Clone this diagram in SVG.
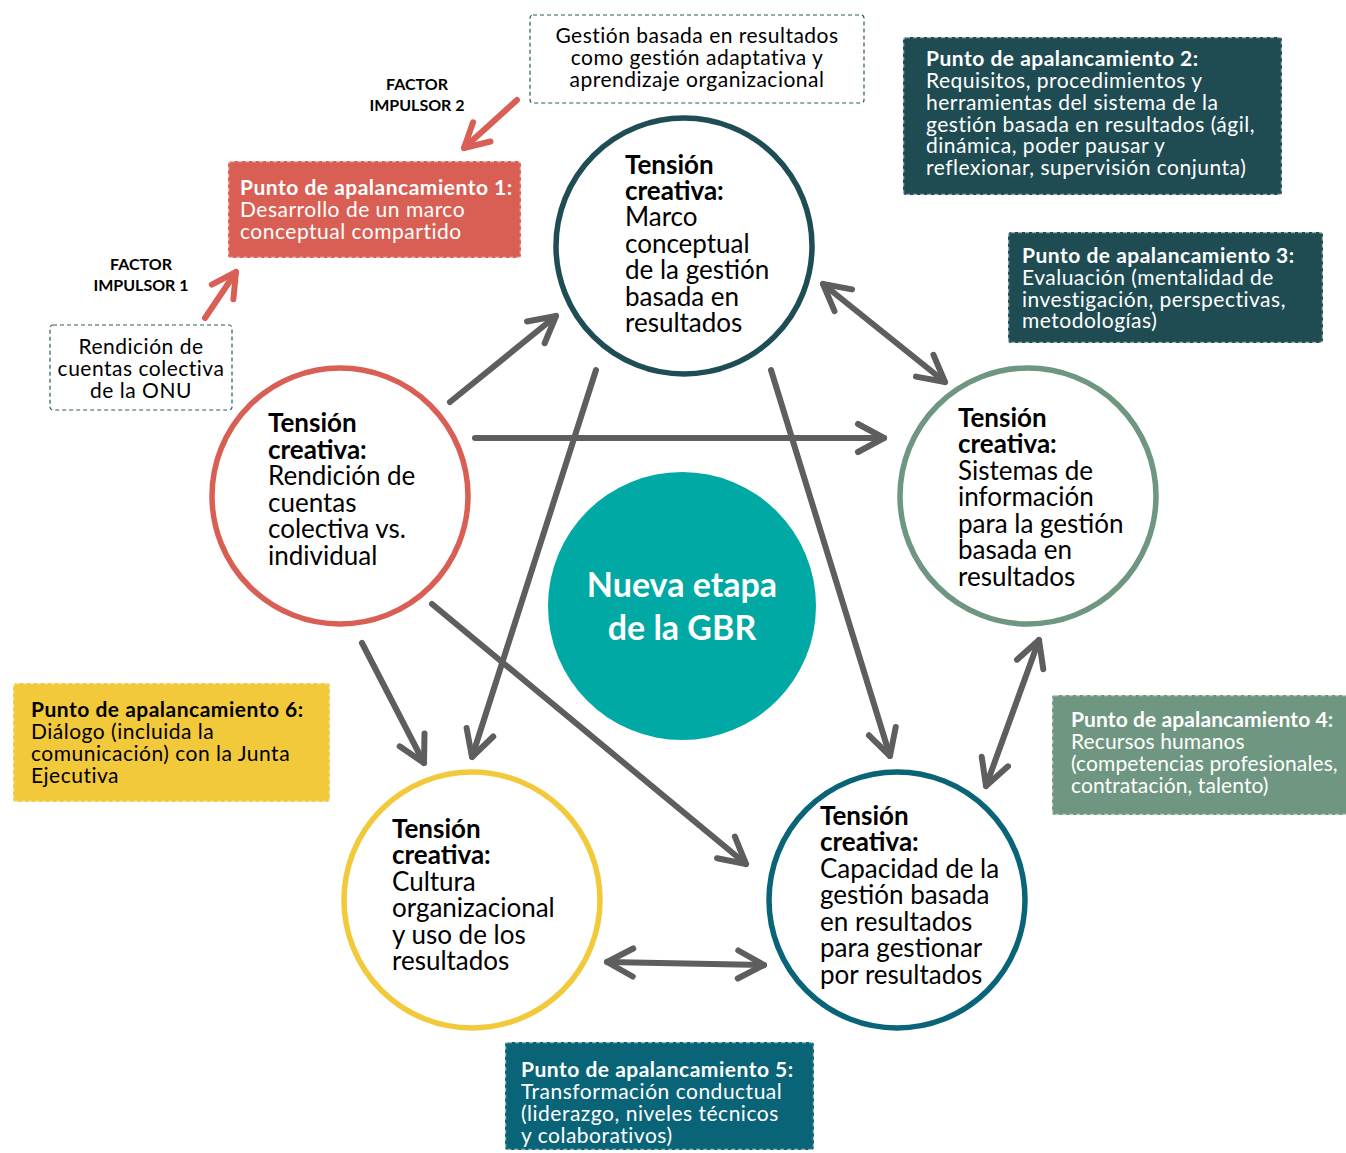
<svg xmlns="http://www.w3.org/2000/svg" width="1346" height="1153" viewBox="0 0 1346 1153">
<style>
.ct{font-family:Lato,"Open Sans",sans-serif;font-size:26px;fill:#000}
.b{font-weight:bold}
.bx{font-family:Lato,"Open Sans",sans-serif;font-size:21px;letter-spacing:0.5px}
.w{fill:#fff}
.k{fill:#000}
.fac{font-family:Lato,"Open Sans",sans-serif;font-size:16px;font-weight:bold;fill:#000}
.circ{fill:#fff;stroke-width:5.5}
.stamp{stroke:#fff;stroke-opacity:.55;stroke-width:2.5;stroke-dasharray:4 3}
.thin{fill:#fff;stroke:#2a5a5e;stroke-width:1.2;stroke-dasharray:4 3}
.g{fill:none;stroke:#5e5e5e;stroke-width:6;stroke-linecap:round}
.r{fill:none;stroke:#d95f55;stroke-width:6;stroke-linecap:round}
</style>
<defs>
<marker id="ah" markerUnits="userSpaceOnUse" viewBox="-40 -25 50 50" refX="0" refY="0" markerWidth="50" markerHeight="50" orient="auto-start-reverse" overflow="visible">
<path d="M-26,-14 L0,0 L-26,14" fill="none" stroke="#5e5e5e" stroke-width="6" stroke-linecap="round" stroke-linejoin="round"/>
</marker>
<marker id="ar" markerUnits="userSpaceOnUse" viewBox="-40 -25 50 50" refX="0" refY="0" markerWidth="50" markerHeight="50" orient="auto-start-reverse" overflow="visible">
<path d="M-24,-13 L0,0 L-24,13" fill="none" stroke="#d95f55" stroke-width="6" stroke-linecap="round" stroke-linejoin="round"/>
</marker>
</defs>
<rect width="1346" height="1153" fill="#fff"/>

<g id="connectors">
<path class="g" d="M450,402 L556,316" marker-end="url(#ah)"/>
<path class="g" d="M475,438 L884,438" marker-end="url(#ah)"/>
<path class="g" d="M362,643 L424,763" marker-end="url(#ah)"/>
<path class="g" d="M596,370 L472,757" marker-end="url(#ah)"/>
<path class="g" d="M432,604 L746,864" marker-end="url(#ah)"/>
<path class="g" d="M771,370 L890,756" marker-end="url(#ah)"/>
<path class="g" d="M823,284 L945,382" marker-start="url(#ah)" marker-end="url(#ah)"/>
<path class="g" d="M1039,640 L986,786" marker-start="url(#ah)" marker-end="url(#ah)"/>
<path class="g" d="M607,962 L764,965" marker-start="url(#ah)" marker-end="url(#ah)"/>
<path class="r" d="M517,100 L464,148" marker-end="url(#ar)"/>
<path class="r" d="M205,318 L236,272" marker-end="url(#ar)"/>
</g>

<g id="center">
<circle cx="682" cy="606" r="134" fill="#00a9a4"/>
<text x="682" y="597" text-anchor="middle" font-family="Lato,'Open Sans',sans-serif" font-size="34" font-weight="bold" fill="#fff">Nueva etapa</text>
<text x="682" y="640" text-anchor="middle" font-family="Lato,'Open Sans',sans-serif" font-size="34" font-weight="bold" fill="#fff">de la GBR</text>
</g>

<g id="c-top">
<circle class="circ" cx="684" cy="246" r="128" stroke="#1e4d55"/>
<text class="ct"><tspan class="b" x="625" y="174">Tensión</tspan><tspan class="b" x="625" y="200">creativa:</tspan><tspan x="625" y="226">Marco</tspan><tspan x="625" y="253">conceptual</tspan><tspan x="625" y="279">de la gestión</tspan><tspan x="625" y="306">basada en</tspan><tspan x="625" y="332">resultados</tspan></text>
</g>

<g id="c-left">
<circle class="circ" cx="340" cy="496" r="128" stroke="#d95f55"/>
<text class="ct"><tspan class="b" x="268" y="432">Tensión</tspan><tspan class="b" x="268" y="459">creativa:</tspan><tspan x="268" y="485">Rendición de</tspan><tspan x="268" y="512">cuentas</tspan><tspan x="268" y="538">colectiva vs.</tspan><tspan x="268" y="565">individual</tspan></text>
</g>

<g id="c-right">
<circle class="circ" cx="1028" cy="496" r="128" stroke="#6e9680"/>
<text class="ct"><tspan class="b" x="958" y="427">Tensión</tspan><tspan class="b" x="958" y="453">creativa:</tspan><tspan x="958" y="480">Sistemas de</tspan><tspan x="958" y="506">información</tspan><tspan x="958" y="533">para la gestión</tspan><tspan x="958" y="559">basada en</tspan><tspan x="958" y="586">resultados</tspan></text>
</g>

<g id="c-bl">
<circle class="circ" cx="472" cy="900" r="128" stroke="#f2c93b"/>
<text class="ct"><tspan class="b" x="392" y="838">Tensión</tspan><tspan class="b" x="392" y="864">creativa:</tspan><tspan x="392" y="891">Cultura</tspan><tspan x="392" y="917">organizacional</tspan><tspan x="392" y="944">y uso de los</tspan><tspan x="392" y="970">resultados</tspan></text>
</g>

<g id="c-br">
<circle class="circ" cx="897" cy="900" r="128" stroke="#0a6478"/>
<text class="ct"><tspan class="b" x="820" y="825">Tensión</tspan><tspan class="b" x="820" y="851">creativa:</tspan><tspan x="820" y="878">Capacidad de la</tspan><tspan x="820" y="904">gestión basada</tspan><tspan x="820" y="931">en resultados</tspan><tspan x="820" y="957">para gestionar</tspan><tspan x="820" y="984">por resultados</tspan></text>
</g>

<g id="box-gbr">
<rect class="thin" x="530" y="15" width="334" height="88" rx="3"/>
<text class="bx k" text-anchor="middle"><tspan x="697" y="43">Gestión basada en resultados</tspan><tspan x="697" y="65">como gestión adaptativa y</tspan><tspan x="697" y="87">aprendizaje organizacional</tspan></text>
</g>

<g id="factor2">
<text class="fac" text-anchor="middle"><tspan x="417" y="90">FACTOR</tspan><tspan x="417" y="111">IMPULSOR 2</tspan></text>
</g>

<g id="factor1">
<text class="fac" text-anchor="middle"><tspan x="141" y="270">FACTOR</tspan><tspan x="141" y="291">IMPULSOR 1</tspan></text>
</g>

<g id="box-onu">
<rect class="thin" x="50" y="325" width="182" height="85" rx="3"/>
<text class="bx k" text-anchor="middle"><tspan x="141" y="354">Rendición de</tspan><tspan x="141" y="376">cuentas colectiva</tspan><tspan x="141" y="398">de la ONU</tspan></text>
</g>

<g id="pa1">
<rect class="stamp" x="228" y="161" width="293" height="97" rx="3" fill="#d95f55"/>
<text class="bx w"><tspan class="b" x="240" y="195">Punto de apalancamiento 1:</tspan><tspan x="240" y="217">Desarrollo de un marco</tspan><tspan x="240" y="239">conceptual compartido</tspan></text>
</g>

<g id="pa2">
<rect class="stamp" x="903" y="37" width="379" height="158" rx="3" fill="#1f4c52"/>
<text class="bx w"><tspan class="b" x="926" y="66">Punto de apalancamiento  2:</tspan><tspan x="926" y="88">Requisitos, procedimientos y</tspan><tspan x="926" y="110">herramientas del sistema de la</tspan><tspan x="926" y="132">gestión basada en resultados (ágil,</tspan><tspan x="926" y="153">dinámica, poder pausar y</tspan><tspan x="926" y="175">reflexionar, supervisión conjunta)</tspan></text>
</g>

<g id="pa3">
<rect class="stamp" x="1008" y="232" width="315" height="111" rx="3" fill="#1f4c52"/>
<text class="bx w"><tspan class="b" x="1022" y="263">Punto de apalancamiento  3:</tspan><tspan x="1022" y="285">Evaluación (mentalidad de</tspan><tspan x="1022" y="307">investigación, perspectivas,</tspan><tspan x="1022" y="328">metodologías)</tspan></text>
</g>

<g id="pa4">
<rect class="stamp" x="1052" y="695" width="300" height="120" rx="3" fill="#6e9680"/>
<text class="bx w" style="letter-spacing:0.1px"><tspan class="b" x="1071" y="727">Punto de apalancamiento  4:</tspan><tspan x="1071" y="749">Recursos humanos</tspan><tspan x="1071" y="771">(competencias profesionales,</tspan><tspan x="1071" y="793">contratación, talento)</tspan></text>
</g>

<g id="pa5">
<rect class="stamp" x="505" y="1042" width="309" height="108" rx="3" fill="#0a6478"/>
<text class="bx w"><tspan class="b" x="521" y="1077">Punto de apalancamiento 5:</tspan><tspan x="521" y="1099">Transformación conductual</tspan><tspan x="521" y="1121">(liderazgo, niveles técnicos</tspan><tspan x="521" y="1143">y colaborativos)</tspan></text>
</g>

<g id="pa6">
<rect class="stamp" x="13" y="683" width="317" height="119" rx="3" fill="#f2c93b"/>
<text class="bx k"><tspan class="b" x="31" y="717">Punto de apalancamiento 6:</tspan><tspan x="31" y="739">Diálogo (incluida la</tspan><tspan x="31" y="761">comunicación) con la Junta</tspan><tspan x="31" y="783">Ejecutiva</tspan></text>
</g>
</svg>
